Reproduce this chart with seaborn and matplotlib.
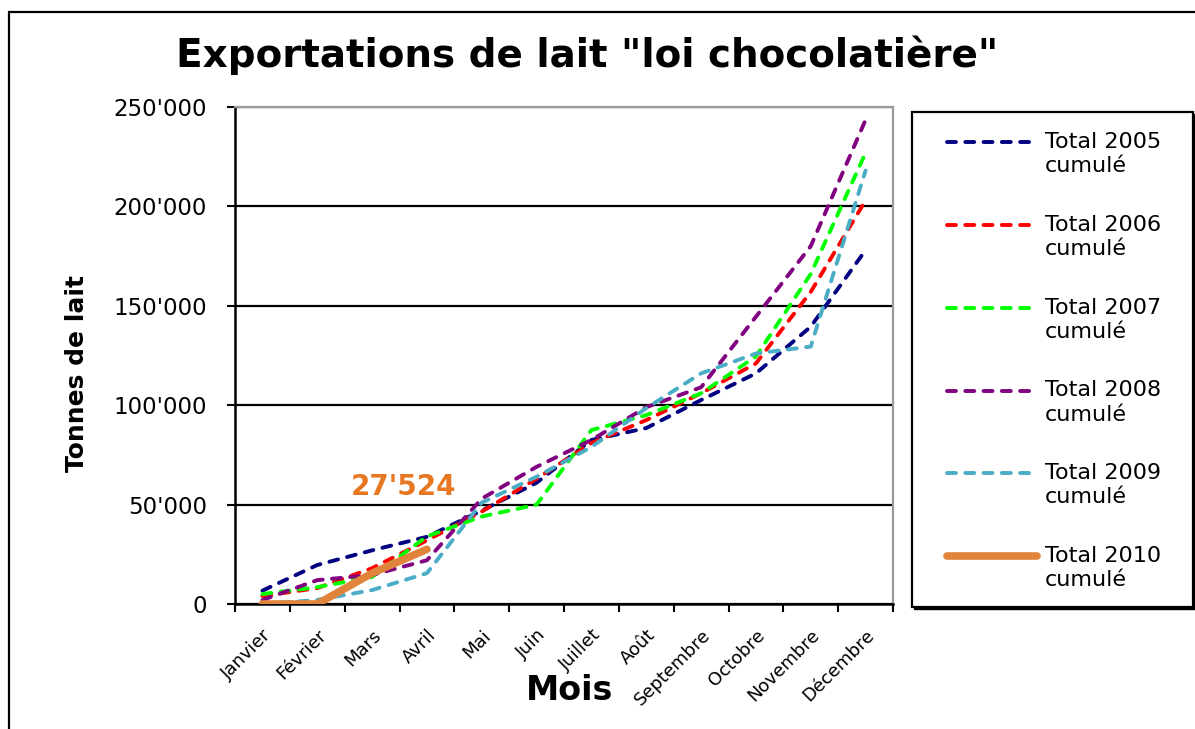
import pandas as pd
import seaborn as sns
import matplotlib.pyplot as plt
import matplotlib.patches as patches
from matplotlib.ticker import FuncFormatter, FixedLocator

mois = ['Janvier', 'Février', 'Mars', 'Avril', 'Mai', 'Juin', 'Juillet',
        'Août', 'Septembre', 'Octobre', 'Novembre', 'Décembre']

total_2005 = [6700, 19600, 27000, 33800, 47000, 61000, 82500, 88500, 102600, 116000, 139500, 178000]
total_2006 = [4000, 8000, 18000, 32000, 46500, 63000, 81000, 92500, 106000, 121000, 157000, 203000]
total_2007 = [5000, 8500, 13600, 34000, 44000, 50000, 87500, 95000, 106000, 124500, 166000, 227000]
total_2008 = [2000, 12000, 14600, 22000, 53000, 69000, 82500, 99000, 109000, 144500, 180000, 243500]
total_2009 = [0, 2000, 7000, 15500, 51000, 64000, 79000, 98500, 116000, 126000, 129500, 218000]
total_2010 = [0, 0, 15500, 27524]

series = {
    'Total 2005\ncumulé': total_2005,
    'Total 2006\ncumulé': total_2006,
    'Total 2007\ncumulé': total_2007,
    'Total 2008\ncumulé': total_2008,
    'Total 2009\ncumulé': total_2009,
    'Total 2010\ncumulé': total_2010,
}
colors = ['#000080', '#FF0000', '#00FF00', '#800080', '#4BACC6', '#E0843C']

sns.set_style("white")
plt.rcParams['font.family'] = ['DejaVu Sans']
plt.rcParams['text.color'] = 'black'
plt.rcParams['axes.labelcolor'] = 'black'
plt.rcParams['xtick.color'] = 'black'
plt.rcParams['ytick.color'] = 'black'

W, H = 1195, 729
fig = plt.figure(figsize=(W / 100, H / 100), dpi=100)
ax = fig.add_axes([235 / W, 1 - 604 / H, 658 / W, 497 / H])

for (name, vals), col in zip(series.items(), colors):
    df = pd.DataFrame({'Mois': list(range(len(vals))), 'Tonnes': vals})
    if name.startswith('Total 2010'):
        sns.lineplot(data=df, x='Mois', y='Tonnes', ax=ax, color=col, lw=5.5,
                     label=name, solid_capstyle='round', zorder=4)
    else:
        line = sns.lineplot(data=df, x='Mois', y='Tonnes', ax=ax, color=col, lw=2.8,
                            label=name, zorder=3).lines[-1]
        line.set_dashes((2.3, 2.4))
        line.set_dash_capstyle('round')

ax.set_xlim(-0.5, 11.5)
ax.set_ylim(0, 250000)

# x axis: labels at category centres, tick marks between categories
ax.set_xticks(range(12))
ax.set_xticklabels(mois, rotation=45, ha='right', rotation_mode='anchor', fontsize=13)
ax.xaxis.set_minor_locator(FixedLocator([i - 0.5 for i in range(13)]))
ax.tick_params(axis='x', which='major', length=0, pad=16)
ax.tick_params(axis='x', which='minor', length=6, width=1.5, direction='out', bottom=True)

ax.set_yticks(range(0, 250001, 50000))
ax.yaxis.set_major_formatter(FuncFormatter(lambda v, p: f"{int(v):,}".replace(",", "'")))
ax.tick_params(axis='y', length=6, width=1.5, direction='out', left=True, pad=14, labelsize=16.5)

ax.yaxis.grid(True, color='black', lw=1.6)
ax.set_axisbelow(True)
for s in ['left', 'bottom']:
    ax.spines[s].set_color('black')
    ax.spines[s].set_linewidth(1.8)
for s in ['top', 'right']:
    ax.spines[s].set_color('#9a9a9a')
    ax.spines[s].set_linewidth(1.6)

ax.set_xlabel('Mois', fontsize=24, fontweight='bold')
ax.xaxis.set_label_coords(0.509, -0.14)
ax.set_ylabel('Tonnes de lait', fontsize=18, fontweight='bold')
ax.yaxis.set_label_coords(-0.222, 0.464)

ax.text(2.58, 58800, "27'524", color='#E87722', fontsize=20, fontweight='bold',
        ha='center', va='center')

fig.text(587 / W, 1 - 55 / H, 'Exportations de lait "loi chocolatière"',
         fontsize=28, fontweight='bold', ha='center', va='center')

# legend box drawn separately so it matches the reference frame
fig.add_artist(patches.Rectangle(((912 + 2) / W, 1 - (607 + 2) / H), 281 / W, 495 / H,
                                 transform=fig.transFigure, facecolor='black',
                                 edgecolor='black', lw=1.0, zorder=-2))
fig.add_artist(patches.Rectangle((912 / W, 1 - 607 / H), 281 / W, 495 / H,
                                 transform=fig.transFigure, facecolor='white',
                                 edgecolor='black', lw=1.6, zorder=-1))

leg = ax.legend(loc='upper left', bbox_to_anchor=(947 / W, 1 - 132 / H),
                bbox_transform=fig.transFigure, fontsize=16, frameon=False,
                handlelength=4.05, handletextpad=0.36, labelspacing=1.74, borderpad=0,
                borderaxespad=0)
for t in leg.get_texts():
    t.set_linespacing(1.26)
for h in leg.legend_handles:
    h.set_ydata([v + 8.8 for v in h.get_ydata()])

fig.add_artist(patches.Rectangle((9 / W, -0.1), 1.2, 1 - 12 / H + 0.1,
                                 transform=fig.transFigure, fill=False,
                                 edgecolor='black', lw=1.6, clip_on=False))

fig.savefig('out.png', dpi=100)
plt.close(fig)
